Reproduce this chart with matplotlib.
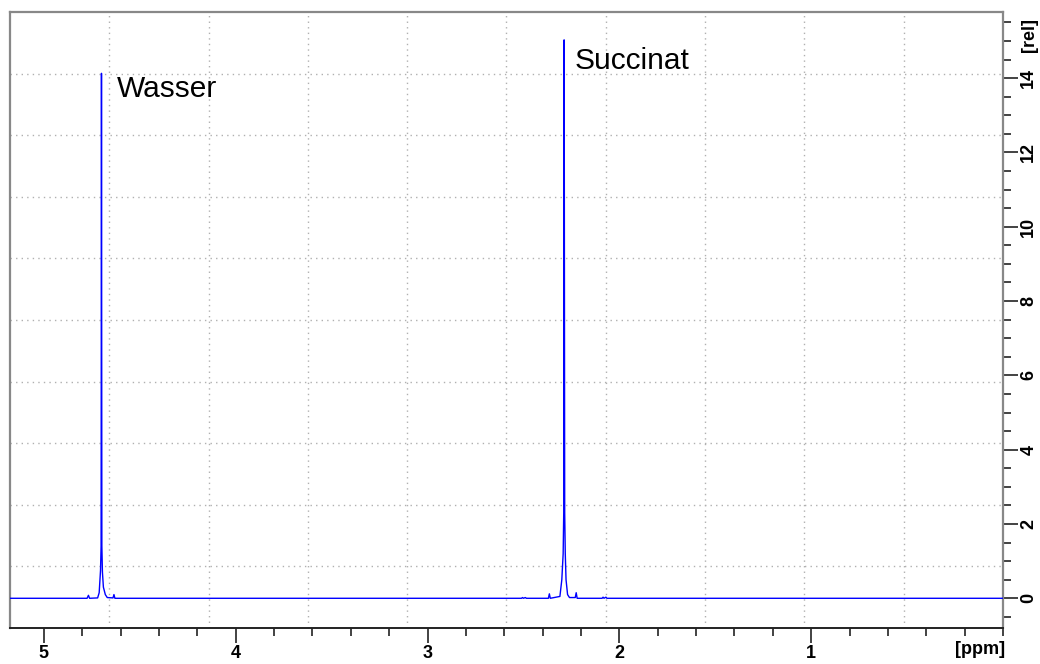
import numpy as np
import matplotlib
matplotlib.use("Agg")
from matplotlib import pyplot as plt
from matplotlib.ticker import MultipleLocator

plt.rcParams['font.family'] = ['Liberation Sans', 'DejaVu Sans']

# spectrum (ppm, rel. intensity)
ppm = [5.18, 4.775, 4.768, 4.762, 4.72, 4.712, 4.705, 4.702, 4.700, 4.698,
       4.695, 4.69, 4.68, 4.67, 4.64, 4.635, 4.630,
       2.51, 2.505, 2.50, 2.49, 2.485, 2.37, 2.365, 2.36,
       2.31, 2.30, 2.293, 2.290, 2.288, 2.287, 2.285, 2.282, 2.278, 2.27, 2.26,
       2.23, 2.225, 2.22, 2.09, 2.085, 2.08, 2.07, 2.065, 0.0]
intensity = [0.0, 0.0, 0.08, 0.0, 0.01, 0.15, 0.75, 1.4, 14.13, 1.4,
             0.7, 0.3, 0.1, 0.02, 0.01, 0.1, 0.0,
             0.0, 0.02, 0.0, 0.02, 0.0, 0.0, 0.12, 0.0,
             0.05, 0.5, 1.2, 2.3, 15.03, 11.66, 2.3, 1.2, 0.5, 0.1, 0.02,
             0.02, 0.15, 0.0, 0.0, 0.03, 0.0, 0.03, 0.0, 0.0]

peak_names = ["Wasser", "Succinat"]
peak_label_x = [4.62, 2.234]
peak_label_y = [13.5, 14.25]

x_major = [5, 4, 3, 2, 1]
y_major = [0, 2, 4, 6, 8, 10, 12, 14]

fig = plt.figure(figsize=(10.4, 6.64), dpi=100)
ax = fig.add_axes([0.0096, 0.0542, 0.9548, 0.9277])

ax.plot(ppm, intensity, color='#0000ff', lw=1.0, zorder=3)

ax.set_xlim(5.177, 0.0)
ax.set_ylim(-0.80, 15.78)

# grid divides the frame into 10 x 10, independent of the ticks
for k in range(1, 10):
    ax.plot([k / 10, k / 10], [0, 1], transform=ax.transAxes, color='#b0b0b0',
            lw=1, ls=(0, (1, 3)), zorder=1)
    ax.plot([0, 1], [k / 10, k / 10], transform=ax.transAxes, color='#b0b0b0',
            lw=1, ls=(0, (1, 3)), zorder=1)

ax.xaxis.set_major_locator(plt.FixedLocator(x_major))
ax.xaxis.set_minor_locator(MultipleLocator(0.2))
ax.yaxis.set_major_locator(plt.FixedLocator(y_major))
ax.yaxis.set_minor_locator(MultipleLocator(0.5))
ax.yaxis.tick_right()
ax.set_xticklabels([str(v) for v in x_major], fontsize=13, fontweight='bold')
ax.set_yticklabels([str(v) for v in y_major], fontsize=13, fontweight='bold',
                   rotation=90, va='center')
ax.tick_params(axis='x', which='major', length=11, width=1.2, color='#222222', pad=1)
ax.tick_params(axis='x', which='minor', length=6, width=1.2, color='#222222')
ax.tick_params(axis='y', which='major', length=11, width=1.2, color='#222222', pad=1.5)
ax.tick_params(axis='y', which='minor', length=6, width=1.2, color='#222222')

for side in ['left', 'top', 'right']:
    ax.spines[side].set_color('#888888')
    ax.spines[side].set_linewidth(1.6)
ax.spines['bottom'].set_color('#222222')
ax.spines['bottom'].set_linewidth(1.4)

ax.text(0.977, -0.021, "[ppm]", transform=ax.transAxes, fontsize=13,
        fontweight='bold', ha='center', va='top')
ax.text(1.027, 0.963, "[rel]", transform=ax.transAxes, fontsize=13,
        fontweight='bold', ha='center', va='center', rotation=90)

for name, x, y in zip(peak_names, peak_label_x, peak_label_y):
    ax.text(x, y, name, fontsize=21.5, ha='left', va='baseline')

fig.savefig("out.png", dpi=100)
